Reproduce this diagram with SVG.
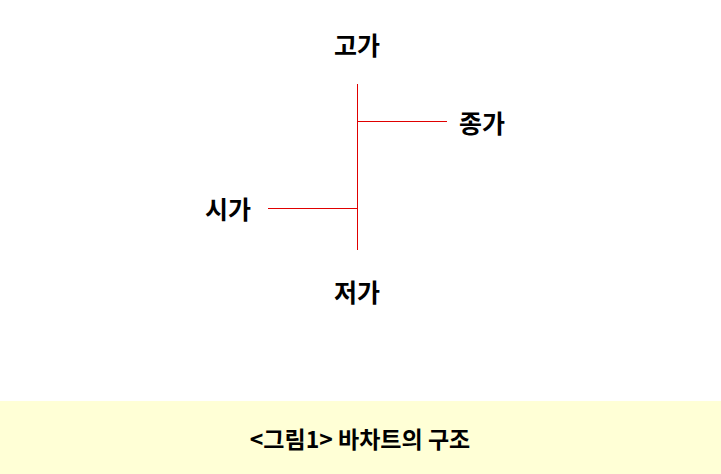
<svg xmlns="http://www.w3.org/2000/svg" width="721" height="474" viewBox="0 0 721 474">
<style>
.lbl{font-family:"Noto Sans CJK KR","Noto Sans",sans-serif;font-weight:bold;font-size:25px;fill:#000}
.cap{font-family:"Noto Sans CJK KR","Noto Sans",sans-serif;font-weight:bold;font-size:23px;fill:#000}
.ln{stroke:#e00000;stroke-width:1;fill:none}
</style>
<rect x="0" y="0" width="721" height="474" fill="#fff"/>
<rect x="0" y="401" width="721" height="73" fill="#ffffd6"/>
<g id="connectors">
<line class="ln" x1="357.5" y1="84" x2="357.5" y2="250"/>
<line class="ln" x1="357" y1="121.5" x2="447" y2="121.5"/>
<line class="ln" x1="268" y1="208.5" x2="357" y2="208.5"/>
</g>
<g id="high"><text class="lbl" x="357" y="55" text-anchor="middle">고가</text></g>
<g id="close"><text class="lbl" x="459" y="133">종가</text></g>
<g id="open"><text class="lbl" x="205" y="219">시가</text></g>
<g id="low"><text class="lbl" x="357" y="302" text-anchor="middle">저가</text></g>
<g id="caption"><text class="cap" x="360" y="448" text-anchor="middle">&lt;그림1&gt; 바차트의 구조</text></g>
</svg>
